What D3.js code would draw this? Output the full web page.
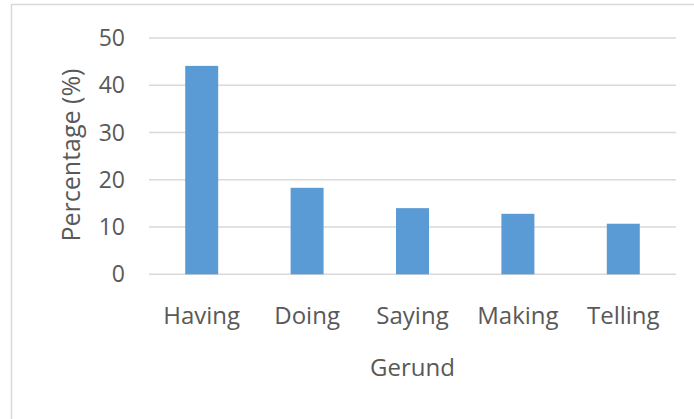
<!DOCTYPE html>
<html>
<head>
<meta charset="utf-8">
<script src="https://cdn.jsdelivr.net/npm/d3@7"></script>
<style>
  body { margin: 0; background: #fff; }
  text { font-family: "Open Sans", "Noto Sans", sans-serif; fill: #595959; }
</style>
</head>
<body>
<div id="chart"></div>
<script>
const categories = ["Having", "Doing", "Saying", "Making", "Telling"];
const values = [44.1, 18.3, 14.0, 12.8, 10.7];
const yTicks = [0, 10, 20, 30, 40, 50];

const W = 694, H = 419;
const margin = {top: 38, right: 18, bottom: 145, left: 149};

const svg = d3.select("#chart")
    .append("svg")
    .attr("width", W)
    .attr("height", H);

// chart area frame (only top and left visible in the crop)
svg.append("path")
    .attr("d", `M11.5,${H} V4.5 H${W}`)
    .attr("fill", "none")
    .attr("stroke", "#d9d9d9")
    .attr("stroke-width", 1.5);

const x = d3.scaleBand()
    .domain(categories)
    .range([margin.left, W - margin.right])
    .paddingInner(0.687)
    .paddingOuter(0.3435);

const y = d3.scaleLinear()
    .domain([0, 50])
    .range([274.3, 38]);

// gridlines
svg.append("g")
    .selectAll("line")
    .data(yTicks)
    .join("line")
    .attr("x1", margin.left)
    .attr("x2", W - margin.right)
    .attr("y1", d => y(d))
    .attr("y2", d => y(d))
    .attr("stroke", "#d9d9d9")
    .attr("stroke-width", 1.5);

// bars
svg.append("g")
    .selectAll("rect")
    .data(values)
    .join("rect")
    .attr("x", (d, i) => x(categories[i]))
    .attr("y", d => y(d))
    .attr("width", x.bandwidth())
    .attr("height", d => y(0) - y(d))
    .attr("fill", "#5b9bd5");

// y tick labels
svg.append("g")
    .selectAll("text")
    .data(yTicks)
    .join("text")
    .attr("x", 125)
    .attr("y", d => y(d))
    .attr("dy", "0.35em")
    .attr("text-anchor", "end")
    .style("font-size", "23px")
    .text(d => d);

// x labels
svg.append("g")
    .selectAll("text")
    .data(categories)
    .join("text")
    .attr("x", d => x(d) + x.bandwidth() / 2)
    .attr("y", 324)
    .attr("text-anchor", "middle")
    .style("font-size", "24px")
    .text(d => d);

// axis titles
svg.append("text")
    .attr("x", x(categories[2]) + x.bandwidth() / 2)
    .attr("y", 376)
    .attr("text-anchor", "middle")
    .style("font-size", "24px")
    .text("Gerund");

svg.append("text")
    .attr("transform", "translate(80,155) rotate(-90)")
    .attr("text-anchor", "middle")
    .style("font-size", "25px")
    .text("Percentage (%)");
</script>
</body>
</html>
